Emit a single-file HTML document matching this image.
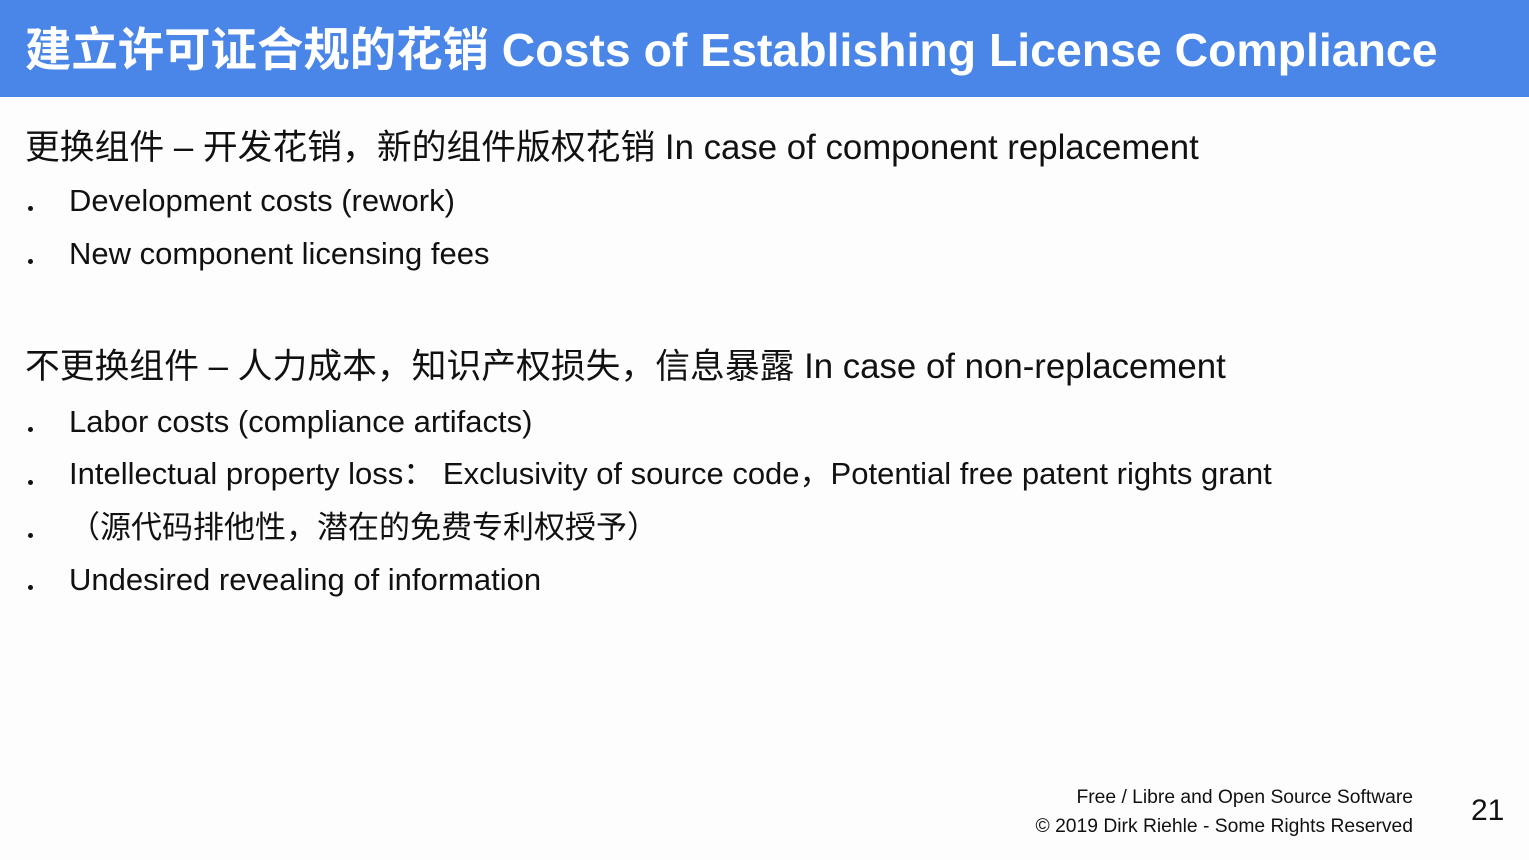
<!DOCTYPE html>
<html><head><meta charset="utf-8"><style>
body{margin:0;width:1529px;height:860px;background:#fdfdfd;position:relative;overflow:hidden;font-family:"Liberation Sans","Noto Sans CJK SC",sans-serif;color:#111}
.hdr{position:absolute;left:0;top:0;width:1529px;height:97px;background:#4a86e8}
.t{position:absolute;white-space:nowrap}
.title{left:25px;top:24px;font-size:46.4px;font-weight:bold;color:#fff;line-height:1.15}
.h{left:25px;font-size:34.8px;line-height:1.15}
.b{left:69px;font-size:31px;line-height:1.15}
.dot{position:absolute;left:28px;width:5px;height:5px;background:#111;border-radius:50%}
.f{font-size:19.3px;right:116px;text-align:right}
</style></head><body>
<div class="hdr"></div>
<div class="t title">建立许可证合规的花销 Costs of Establishing License Compliance</div>
<div class="t h" style="top:128px">更换组件 – 开发花销，新的组件版权花销 In case of component replacement</div>
<div class="dot" style="top:206px"></div><div class="t b" style="top:183px">Development costs (rework)</div>
<div class="dot" style="top:259px"></div><div class="t b" style="top:236px">New component licensing fees</div>
<div class="t h" style="top:347px">不更换组件 – 人力成本，知识产权损失，信息暴露 In case of non-replacement</div>
<div class="dot" style="top:427px"></div><div class="t b" style="top:404px">Labor costs (compliance artifacts)</div>
<div class="dot" style="top:480px"></div><div class="t b" style="top:456px">Intellectual property loss： Exclusivity of source code，Potential free patent rights grant</div>
<div class="dot" style="top:533px"></div><div class="t b" style="top:510px">（源代码排他性，潜在的免费专利权授予）</div>
<div class="dot" style="top:585px"></div><div class="t b" style="top:562px">Undesired revealing of information</div>
<div class="t f" style="top:787px">Free / Libre and Open Source Software</div>
<div class="t f" style="top:816px">© 2019 Dirk Riehle - Some Rights Reserved</div>
<div class="t" style="left:1471px;top:794px;font-size:30px">21</div>
</body></html>
